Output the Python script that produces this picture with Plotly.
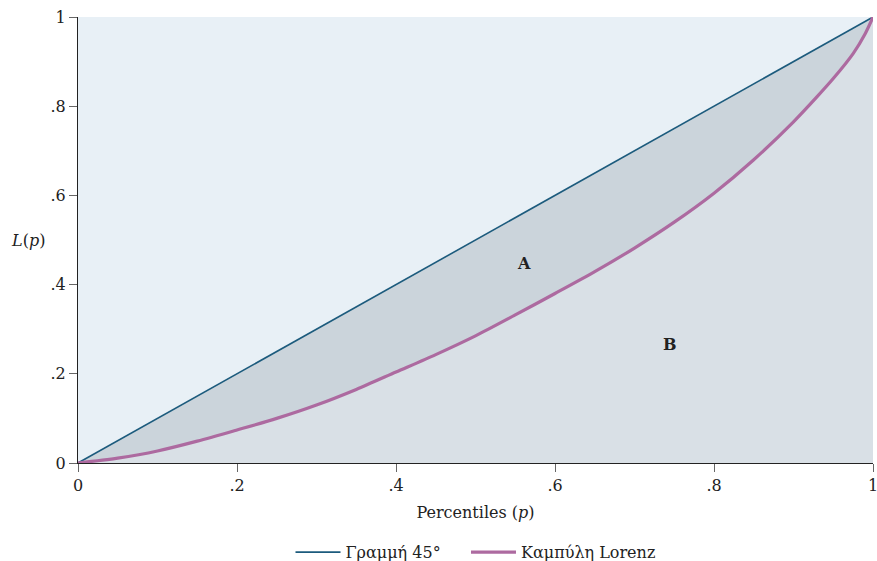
import plotly.graph_objects as go

# Data
p_diag = [0, 1]
l_diag = [0, 1]
p_vals = [0, 0.05, 0.1, 0.15, 0.2, 0.25, 0.3, 0.35, 0.4, 0.45, 0.5, 0.55, 0.6,
          0.65, 0.7, 0.75, 0.8, 0.85, 0.9, 0.93, 0.95, 0.975, 0.99, 1.0]
lorenz = [0, 0.011, 0.027, 0.049, 0.074, 0.100, 0.130, 0.165, 0.204, 0.243, 0.285,
          0.332, 0.380, 0.429, 0.482, 0.540, 0.605, 0.680, 0.765, 0.822, 0.862,
          0.918, 0.962, 1.0]
tick_vals = [0, 0.2, 0.4, 0.6, 0.8, 1]
tick_text = ["0", ".2", ".4", ".6", ".8", "1"]
area_labels = ["A", "B"]
area_x = [0.561, 0.745]
area_y = [0.448, 0.265]

FONT = "DejaVu Serif"
BG_TOP = "#e8f0f6"
FILL_A = "#cbd4db"
FILL_B = "#d9e0e6"
C_DIAG = "#1c5b7d"
C_LOR = "#ad6aa0"

fig = go.Figure()
fig.add_trace(go.Scatter(x=p_diag, y=l_diag, mode="lines", line=dict(width=0),
                         fill="tozeroy", fillcolor=FILL_A, showlegend=False,
                         hoverinfo="skip"))
fig.add_trace(go.Scatter(x=p_vals, y=lorenz, mode="lines",
                         line=dict(width=0, shape="spline", smoothing=0.8),
                         fill="tozeroy", fillcolor=FILL_B, showlegend=False,
                         hoverinfo="skip"))
fig.add_trace(go.Scatter(x=p_diag, y=l_diag, mode="lines",
                         name="Γραμμή 45°" + "\u00a0" * 4,
                         line=dict(color=C_DIAG, width=1.6), cliponaxis=False))
fig.add_trace(go.Scatter(x=p_vals, y=lorenz, mode="lines", name="Καμπύλη Lorenz",
                         line=dict(color=C_LOR, width=3.2, shape="spline", smoothing=0.8),
                         cliponaxis=False))

for t, x, y in zip(area_labels, area_x, area_y):
    fig.add_annotation(x=x, y=y, text="<b>%s</b>" % t, showarrow=False,
                       font=dict(family=FONT, size=16, color="#222"))

fig.add_annotation(xref="paper", yref="paper", x=-0.063, y=0.5,
                   text="<i>L</i>(<i>p</i>)", showarrow=False, xanchor="center",
                   font=dict(family=FONT, size=16, color="#222"))

fig.update_layout(
    width=877, height=561,
    margin=dict(l=78, r=4, t=17, b=98, autoexpand=False),
    paper_bgcolor="white",
    plot_bgcolor=BG_TOP,
    font=dict(family=FONT, size=16, color="#222"),
    legend=dict(orientation="h", x=0.5, xanchor="center", y=-0.2, yanchor="middle",
                font=dict(family=FONT, size=16, color="#222"), itemwidth=45),
)
fig.update_xaxes(range=[0, 1], tickvals=tick_vals, ticktext=tick_text,
                 showgrid=False, zeroline=False, showline=True, linecolor="#222",
                 linewidth=1.2, ticks="outside", ticklen=8, tickcolor="#666",
                 ticklabeloverflow="allow",
                 title=dict(text="Percentiles (<i>p</i>)", standoff=12,
                            font=dict(family=FONT, size=16, color="#222")))
fig.update_yaxes(range=[0, 1], tickvals=tick_vals, ticktext=tick_text,
                 showgrid=False, zeroline=False, showline=True, linecolor="#222",
                 linewidth=1.2, ticks="outside", ticklen=8, tickcolor="#666",
                 ticklabeloverflow="allow")

fig.write_html("out.html", config={"displayModeBar": False},
               post_script="document.body.style.margin='0';document.body.style.overflow='hidden';")
